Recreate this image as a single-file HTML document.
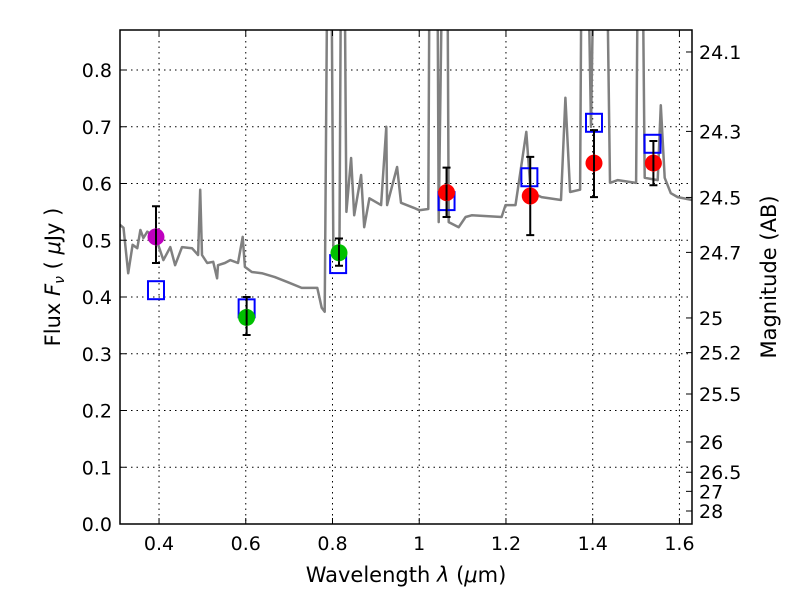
<!DOCTYPE html>
<html><head><meta charset="utf-8"><style>
body{margin:0;background:#fff;}
svg{display:block;font-family:"DejaVu Sans","Liberation Sans",sans-serif;}
</style></head><body>
<svg id="chart" width="800" height="600" viewBox="0 0 800 600" xmlns="http://www.w3.org/2000/svg">
<rect x="0" y="0" width="800" height="600" fill="#fff"/>
<defs><clipPath id="clip"><rect x="120" y="30" width="572" height="494"/></clipPath></defs>
<g id="grid"></g>
<g id="spec" clip-path="url(#clip)"></g>
<g id="marks"></g>
<rect x="120" y="30" width="572" height="494" fill="none" stroke="#000" stroke-width="1.5"/>
<g id="axes"></g>
<text x="406" y="582" font-size="21" text-anchor="middle">Wavelength  <tspan font-style="italic">λ</tspan> (<tspan font-style="italic">μ</tspan>m)</text>
<text transform="translate(60,277) rotate(-90)" font-size="21" text-anchor="middle">Flux  <tspan font-style="italic">F</tspan><tspan font-style="italic" font-size="14" dy="4">ν</tspan><tspan dy="-4">  ( </tspan><tspan font-style="italic">μ</tspan>Jy )</text>
<text transform="translate(776,277) rotate(-90)" font-size="21" text-anchor="middle">Magnitude (AB)</text>
</svg>
<script>
const xTicks=[0.4,0.6,0.8,1.0,1.2,1.4,1.6];
const xTickLabels=["0.4","0.6","0.8","1","1.2","1.4","1.6"];
const yTicks=[0,0.1,0.2,0.3,0.4,0.5,0.6,0.7,0.8];
const yTickLabels=["0.0","0.1","0.2","0.3","0.4","0.5","0.6","0.7","0.8"];
const magTicks=[24.1,24.3,24.5,24.7,25,25.2,25.5,26,26.5,27,28];
const magTickLabels=["24.1","24.3","24.5","24.7","25","25.2","25.5","26","26.5","27","28"];
const specWave=[0.310,0.318,0.329,0.339,0.350,0.357,0.364,0.373,0.385,0.398,0.410,0.426,0.437,0.453,0.476,0.490,0.495,0.499,0.511,0.525,0.534,0.536,0.552,0.564,0.582,0.593,0.598,0.614,0.637,0.667,0.697,0.729,0.765,0.775,0.782,0.793,0.802,0.816,0.823,0.832,0.843,0.850,0.866,0.873,0.885,0.912,0.924,0.926,0.949,0.958,0.988,1.000,1.021,1.027,1.039,1.045,1.062,1.068,1.091,1.107,1.121,1.190,1.199,1.222,1.247,1.257,1.282,1.327,1.337,1.348,1.371,1.378,1.396,1.413,1.424,1.440,1.458,1.500,1.509,1.520,1.550,1.557,1.566,1.580,1.596,1.630];
const specFlux=[0.527,0.522,0.442,0.492,0.486,0.518,0.504,0.515,0.509,0.492,0.465,0.488,0.456,0.488,0.486,0.474,0.589,0.474,0.460,0.462,0.433,0.456,0.460,0.465,0.460,0.506,0.453,0.444,0.442,0.435,0.426,0.416,0.416,0.381,0.374,1.5,0.47,0.47,1.5,0.550,0.645,0.544,0.615,0.523,0.574,0.562,0.700,0.562,0.629,0.566,0.557,0.553,0.555,1.5,1.5,0.532,1.5,0.532,0.523,0.541,0.544,0.541,0.562,0.562,0.691,0.585,0.576,0.571,0.751,0.585,0.589,1.5,0.70,1.5,1.5,0.601,0.606,0.601,1.5,0.610,0.606,0.738,0.610,0.583,0.576,0.571];
const photWave=[0.393,0.602,0.815,1.063,1.256,1.403,1.540];
const photFlux=[0.506,0.364,0.478,0.584,0.578,0.636,0.636];
const photLow=[0.460,0.333,0.455,0.541,0.509,0.576,0.597];
const photHigh=[0.560,0.400,0.503,0.628,0.647,0.694,0.675];
const photColor=["#bf00bf","#00c000","#00c000","#ff0000","#ff0000","#ff0000","#ff0000"];
const modelWave=[0.393,0.602,0.813,1.063,1.254,1.403,1.538];
const modelFlux=[0.412,0.380,0.458,0.569,0.611,0.707,0.670];

const X0=0.310,X1=1.629,Y0=0,Y1=0.8705,L=120,R=692,T=30,B=524;
const sx=v=>L+(v-X0)/(X1-X0)*(R-L);
const sy=v=>B-(v-Y0)/(Y1-Y0)*(B-T);
const NS="http://www.w3.org/2000/svg";
function mk(tag,attrs,parent){const e=document.createElementNS(NS,tag);for(const k in attrs)e.setAttribute(k,attrs[k]);parent.appendChild(e);return e;}
const grid=document.getElementById('grid'),axes=document.getElementById('axes'),spec=document.getElementById('spec'),marks=document.getElementById('marks');

xTicks.forEach((v,i)=>{const x=sx(v);
 const g=mk('line',{x1:x,x2:x,y1:T,y2:B,stroke:'#000','stroke-width':1,'stroke-dasharray':'1.5,4'},grid);
 
 
 const t1=mk('line',{x1:x,x2:x,y1:B,y2:B-6,stroke:'#000'},axes);
 
 
 const t2=mk('line',{x1:x,x2:x,y1:T,y2:T+6,stroke:'#000'},axes);
 
 
 const l=mk('text',{x:x,y:B+26,'font-size':19,'text-anchor':'middle'},axes);l.textContent=xTickLabels[i];
 
 
});
yTicks.forEach((v,i)=>{const y=sy(v);
 const g=mk('line',{x1:L,x2:R,y1:y,y2:y,stroke:'#000','stroke-width':1,'stroke-dasharray':'1.5,4'},grid);
 
 
 const t=mk('line',{x1:L,x2:L+6,y1:y,y2:y,stroke:'#000'},axes);
 
 
 const l=mk('text',{x:L-8,y:y+7,'font-size':19,'text-anchor':'end'},axes);l.textContent=yTickLabels[i];
 
 
});
magTicks.forEach((m,i)=>{const y=sy(Math.pow(10,(23.9-m)/2.5));
 const t=mk('line',{x1:R,x2:R-6,y1:y,y2:y,stroke:'#000'},axes);
 
 
 const l=mk('text',{x:R+7,y:y+7,'font-size':19,'text-anchor':'start'},axes);l.textContent=magTickLabels[i];
 
 
});
const pts=specWave.map((w,i)=>sx(w).toFixed(1)+','+sy(specFlux[i]).toFixed(1)).join(' ');
const pl=mk('polyline',{points:pts,fill:'none',stroke:'#808080','stroke-width':2.5,'stroke-linejoin':'round'},spec);


modelWave.forEach((w,i)=>{const x=sx(w),y=sy(modelFlux[i]);
 const r=mk('rect',{x:x-8,y:y-9,width:16,height:18,fill:'none',stroke:'#0000ff','stroke-width':2},marks);
 
 
});
photWave.forEach((w,i)=>{const x=sx(w);
 const e=mk('path',{d:`M${x},${sy(photLow[i])}V${sy(photHigh[i])}M${x-4},${sy(photLow[i])}h8M${x-4},${sy(photHigh[i])}h8`,stroke:'#000','stroke-width':2,fill:'none'},marks);
 
 
 const c=mk('circle',{cx:x,cy:sy(photFlux[i]),r:8.5,fill:photColor[i]},marks);
 
 
 const e2=mk('line',{x1:x,x2:x,y1:sy(photFlux[i])-8,y2:sy(photFlux[i])+8,stroke:'#000','stroke-width':2},marks);
 
 
});
</script>
</body></html>
